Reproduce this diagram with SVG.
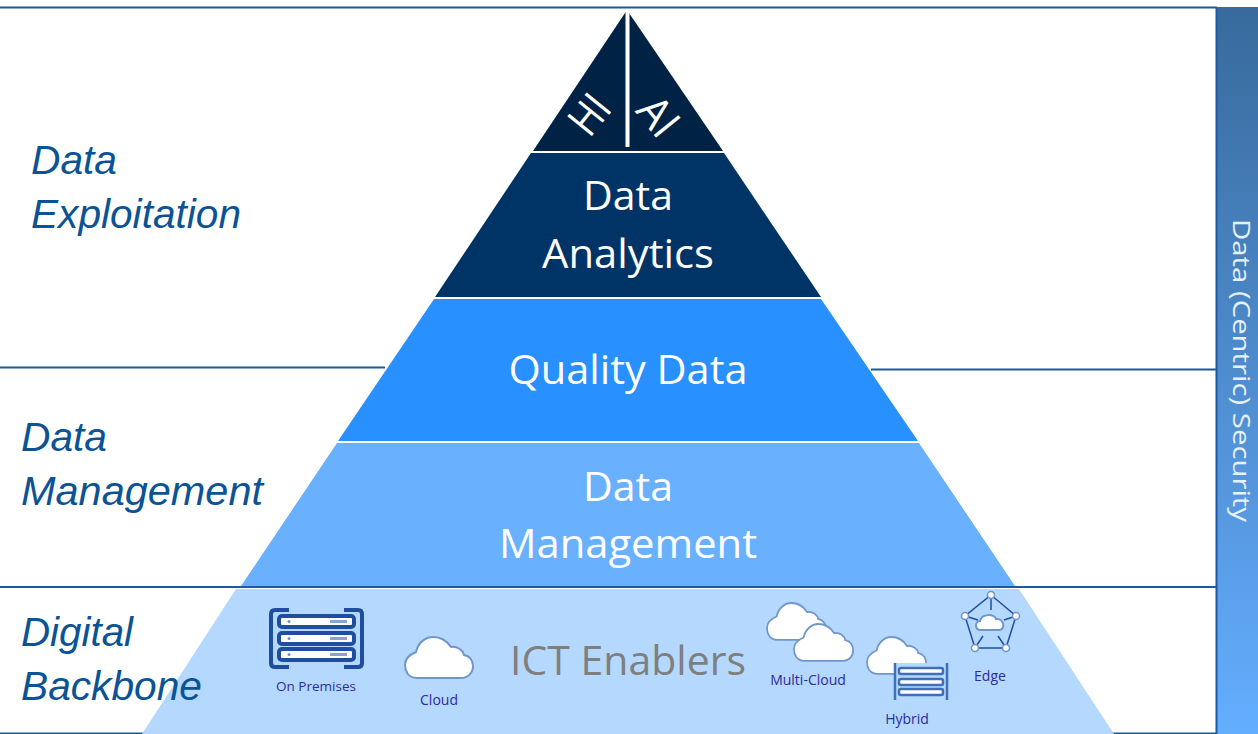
<svg xmlns="http://www.w3.org/2000/svg" width="1258" height="734" viewBox="0 0 1258 734">
<style>
.l{font-family:"Liberation Sans",Arial,sans-serif;font-style:italic;font-size:41px;fill:#0b5394}
.p{font-family:"Open Sans","Noto Sans",sans-serif;font-size:41px;fill:#fff;text-anchor:middle}
.i{font-family:"Open Sans","Noto Sans",sans-serif;font-size:14px;font-weight:500;fill:#2f2a9e;text-anchor:middle}
.rule{stroke:#1b5aa0;stroke-width:2;fill:none}
.cloud{fill:#fff;stroke:#7096cc;stroke-width:2}
.srv{fill:#fff;stroke:#1f4ea1;stroke-width:4}
.srv2{fill:#fff;stroke:#3f6fb8;stroke-width:2.500}
.brk{fill:none;stroke:#1f4ea1;stroke-width:4}
</style>
<defs>
<linearGradient id="g" x1="0" y1="0" x2="0" y2="1"><stop offset="0" stop-color="#386a9c"/><stop offset="1" stop-color="#64aeff"/></linearGradient>
<path id="c" d="M12 41C3 41 0 34 0 28C0 21 6 17 11 15C13 6 20 0 28 0C36 0 42 4 46 10C52 9 58 13 59 18C65 19 68 24 68 29C68 36 63 41 56 41Z"/>
<g id="s"><rect x="0" y="0" width="75" height="11" rx="3" class="srv"/><circle cx="10" cy="5.500" r="1.500" fill="#6f94c8"/><rect x="51" y="4" width="17" height="3" fill="#8aa3cc"/></g>
</defs>
<rect width="1258" height="734" fill="#fff"/>
<g id="security"><rect x="1217" y="7" width="41" height="727" fill="url(#g)"/><text transform="translate(1233,219) rotate(90)" font-family="Open Sans,Noto Sans,sans-serif" font-size="23" fill="#e8f1fb" textLength="303" lengthAdjust="spacingAndGlyphs">Data (Centric) Security</text></g>
<g id="connectors">
<path class="rule" d="M0 7.500H1217M0 367.500H385M871 369.500H1217M0 587H1217M0 733.500H1217M1216.500 7V734"/>
</g>
<g id="level-ict"><path d="M236 589H1019L1114 734H142Z" fill="#b5d8ff"/><text x="628" y="675" class="p" style="fill:#7f7f7f">ICT Enablers</text></g>
<g id="level-management"><path d="M337 443H919L1015 586H241Z" fill="#69b1ff"/><text class="p" x="628" y="501">Data</text><text class="p" x="628" y="558" textLength="258" lengthAdjust="spacingAndGlyphs">Management</text></g>
<g id="level-quality"><path d="M434 299H821L918 441H338Z" fill="#2890ff"/><text class="p" x="628" y="384" textLength="239" lengthAdjust="spacingAndGlyphs">Quality Data</text></g>
<g id="level-analytics"><path d="M531 153H724L821 297H435Z" fill="#003366"/><text class="p" x="628" y="210">Data</text><text class="p" x="628" y="268" textLength="172" lengthAdjust="spacingAndGlyphs">Analytics</text></g>
<g id="level-hi"><path d="M627 10V151H533Z" fill="#002244"/><text transform="translate(589,114) rotate(-51)" class="p" style="font-size:44px" y="16" textLength="38" lengthAdjust="spacingAndGlyphs">HI</text></g>
<g id="level-ai"><path d="M627 10L723 151H627Z" fill="#002244"/><path d="M627.500 9V147" stroke="#fff" stroke-width="4"/><text transform="translate(659,116) rotate(51)" class="p" style="font-size:44px" y="16" textLength="38" lengthAdjust="spacingAndGlyphs">AI</text></g>
<g id="label-exploitation"><text class="l" x="31" y="174" textLength="86" lengthAdjust="spacingAndGlyphs">Data</text><text class="l" x="31" y="228" textLength="210" lengthAdjust="spacingAndGlyphs">Exploitation</text></g>
<g id="label-management"><text class="l" x="21" y="451" textLength="86" lengthAdjust="spacingAndGlyphs">Data</text><text class="l" x="21" y="505" textLength="242" lengthAdjust="spacingAndGlyphs">Management</text></g>
<g id="label-backbone"><text class="l" x="21" y="646" textLength="112" lengthAdjust="spacingAndGlyphs">Digital</text><text class="l" x="21" y="700" textLength="181" lengthAdjust="spacingAndGlyphs">Backbone</text></g>
<g id="on-premises">
<path class="brk" d="M289 610H275Q271 610 271 614V663Q271 667 275 667H289M344 610H358Q362 610 362 614V663Q362 667 358 667H344"/>
<use href="#s" x="279" y="616"/><use href="#s" x="279" y="633"/><use href="#s" x="279" y="649"/>
<text class="i" x="316" y="691" style="font-size:13.500px">On Premises</text>
</g>
<g id="cloud"><use href="#c" transform="translate(405 637)" class="cloud"/><text class="i" x="439" y="705">Cloud</text></g>
<g id="multi-cloud"><use href="#c" transform="translate(767 603) scale(.87 .9)" class="cloud"/><use href="#c" transform="translate(794 624) scale(.87 .9)" class="cloud"/><text class="i" x="808" y="685">Multi-Cloud</text></g>
<g id="hybrid"><use href="#c" transform="translate(867 637) scale(.87 .9)" class="cloud"/><rect x="894" y="663" width="54" height="37" fill="#b5d8ff"/><path d="M895 663V700M947 663V700" fill="none" stroke="#3f6fb8" stroke-width="2.500"/><rect x="899" y="668" width="44" height="6" rx="2" class="srv2"/><rect x="899" y="679" width="44" height="6" rx="2" class="srv2"/><rect x="899" y="689" width="44" height="6" rx="2" class="srv2"/><text class="i" x="907" y="724">Hybrid</text></g>
<g id="edge"><path d="M991 595L1016 616L1006 648H975L965 616Z" fill="none" stroke="#1f4ea1" stroke-width="1.500"/><path d="M991 595V610M965 616L978 620M1016 616L1004 620M975 648L983 636M1006 648L998 636" stroke="#1f4ea1" stroke-width="1.500"/><g fill="#fff" stroke="#6f94c8" stroke-width="1.500"><circle cx="991" cy="595" r="3.500"/><circle cx="965" cy="616" r="3.500"/><circle cx="1016" cy="616" r="3.500"/><circle cx="975" cy="648" r="3.500"/><circle cx="1006" cy="648" r="3.500"/></g><path d="M981 630C974 630 975 621 980 621C982 613 994 614 996 619C1004 618 1006 630 999 630Z" class="cloud"/><text class="i" x="990" y="681">Edge</text></g>
</svg>
